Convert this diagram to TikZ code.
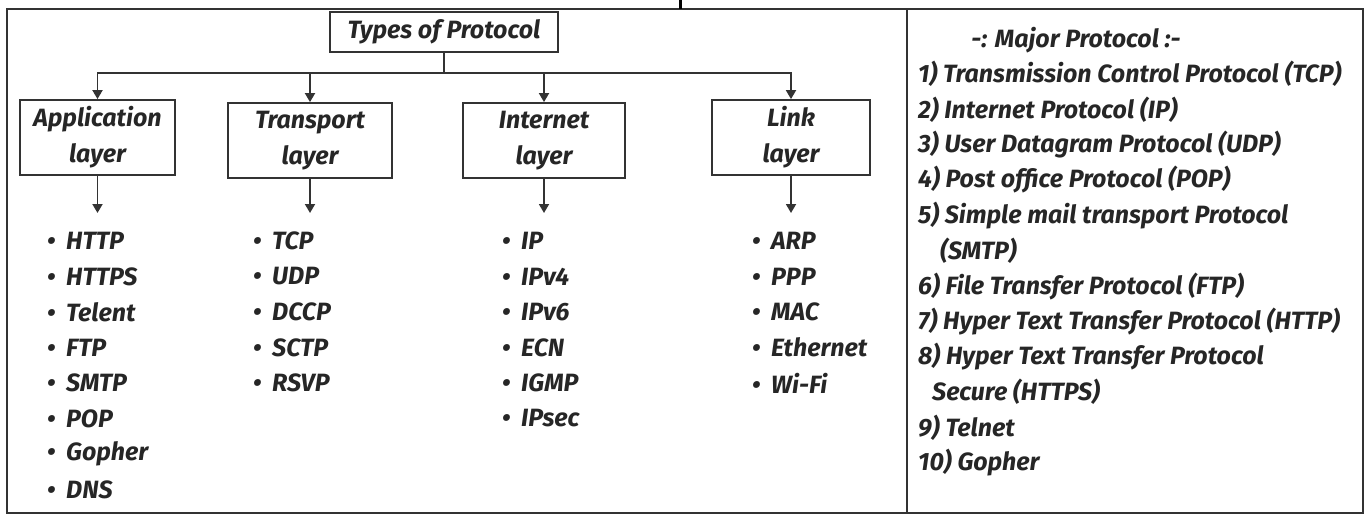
\documentclass[tikz,border=0pt]{standalone}
\usepackage{fontspec}
\setmainfont{Fira Sans}
\usetikzlibrary{arrows.meta}
\begin{document}
\begin{tikzpicture}[x=1pt,y=-1pt,
  ln/.style={draw=black!80, line width=1.8pt},
  arr/.style={ln,-{Triangle[width=10pt,length=9pt]}},
  hand/.style={font=\fontsize{25}{36}\selectfont\bfseries\itshape, text=black!85},
  box/.style={ln,hand,fill=white,align=center,inner sep=0pt},
  item/.style={hand,anchor=west,inner sep=0pt},
  pitem/.style={hand,anchor=west,inner sep=0pt}]
\useasboundingbox (0,0) rectangle (1364,516);
\fill[white] (0,0) rectangle (1364,516);
% frame
\draw[ln] (7,9) rectangle (1363,513);
\draw[draw=black,line width=3pt] (680,0) -- (680,9);
\draw[ln] (907,9) -- (907,513);
% tree
\node[box,minimum width=228pt,minimum height=40pt] (top) at (444,32) {Types of Protocol};
\coordinate (bus) at (444,73);
\node[box,minimum width=155pt,minimum height=75pt] (app) at (97.5,137.5) {Application\\layer};
\node[box,minimum width=164pt,minimum height=75pt] (tra) at (310,140.5) {Transport\\layer};
\node[box,minimum width=162pt,minimum height=75pt] (int) at (544,140.5) {Internet\\layer};
\node[box,minimum width=158pt,minimum height=75pt] (lnk) at (791,137.5) {Link\\layer};
\draw[ln] (top.south) -- (bus);
\draw[arr] (bus) -| (app.north);
\draw[arr] (bus) -| (tra.north);
\draw[arr] (bus) -| (int.north);
\draw[arr] (bus) -| (lnk.north);
\coordinate (appe) at (97.5,213);
\coordinate (trae) at (310,213);
\coordinate (inte) at (544,213);
\coordinate (lnke) at (791,213);
\draw[arr] (app.south) -- (appe);
\draw[arr] (tra.south) -- (trae);
\draw[arr] (int.south) -- (inte);
\draw[arr] (lnk.south) -- (lnke);
% lists
\newcommand{\bl}{\makebox[19pt][l]{\textbullet}}
\foreach \t [count=\i] in {HTTP,HTTPS,Telent,FTP,SMTP,POP,Gopher,DNS}
  \node[item] (a\i) at (47,205.5+35.5*\i) {\bl\t};
\foreach \t [count=\i] in {TCP,UDP,DCCP,SCTP,RSVP}
  \node[item] (t\i) at (253,205.5+35.5*\i) {\bl\t};
\foreach \t [count=\i] in {IP,IPv4,IPv6,ECN,IGMP,IPsec}
  \node[item] (n\i) at (502,205.5+35.5*\i) {\bl\t};
\foreach \t [count=\i] in {ARP,PPP,MAC,Ethernet,Wi-Fi}
  \node[item] (l\i) at (752,205.5+35.5*\i) {\bl\t};
% right panel
\node[hand] (mp) at (1076,40) {-: Major Protocol :-};
\node[pitem] (m1) at (918,74) {1) Transmission Control Protocol (TCP)};
\node[pitem] (m2) at (918,110) {2) Internet Protocol (IP)};
\node[pitem] (m3) at (918,145) {3) User Datagram Protocol (UDP)};
\node[pitem] (m4) at (918,180) {4) Post office Protocol (POP)};
\node[pitem] (m5) at (918,216) {5) Simple mail transport Protocol};
\node[pitem] (m5b) at (940,251) {(SMTP)};
\node[pitem] (m6) at (918,287) {6) File Transfer Protocol (FTP)};
\node[pitem] (m7) at (918,322) {7) Hyper Text Transfer Protocol (HTTP)};
\node[pitem] (m8) at (918,357) {8) Hyper Text Transfer Protocol};
\node[pitem] (m8b) at (932,392) {Secure (HTTPS)};
\node[pitem] (m9) at (918,428) {9) Telnet};
\node[pitem] (m10) at (918,463) {10) Gopher};
\end{tikzpicture}
\end{document}
